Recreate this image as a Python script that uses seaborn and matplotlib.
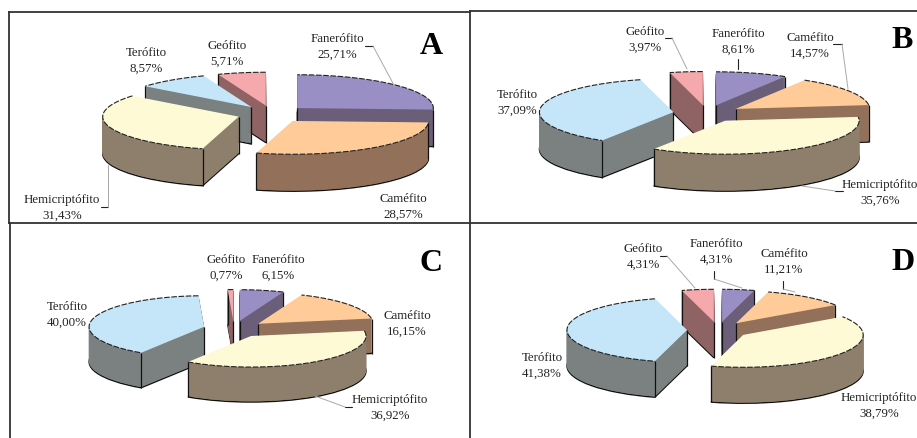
import numpy as np
import matplotlib
matplotlib.use('Agg')
import matplotlib.pyplot as plt
import seaborn as sns

W, H = 917, 439

### DATA ###
life_forms = ['Fanerófito', 'Caméfito', 'Hemicriptófito', 'Terófito', 'Geófito']
values_a = [25.71, 28.57, 31.43, 8.57, 5.71]
values_b = [8.61, 14.57, 35.76, 37.09, 3.97]
values_c = [6.15, 16.15, 36.92, 40.00, 0.77]
values_d = [4.31, 11.21, 38.79, 41.38, 4.31]
top_colors = ['#9A8FC4', '#FFCC99', '#FFFAD6', '#C5E6F9', '#F5A9AC']
wall_colors = ['#6B5E78', '#92705A', '#8E7E6C', '#7B8081', '#8F6264']

# panel layout, in pixels: letter, values, centre x/y, radius, explode, squash, depth
panels = [
    ('A', values_a, 272, 115.0, 136, 35, 0.245, 37, (431, 47)),
    ('B', values_b, 707, 114.5, 134, 34, 0.25, 37, (902, 41)),
    ('C', values_c, 234, 330.0, 115, 31, 0.27, 35, (431, 264)),
    ('D', values_d, 718, 331.0, 120, 31, 0.27, 36, (903, 263)),
]

# label centres, same order as life_forms
label_pos = {
    'A': [(337, 47), (403, 207), (62, 208), (146, 61), (227, 54)],
    'B': [(738, 42), (810, 46), (880, 193), (517, 103), (645, 40)],
    'C': [(278, 268), (407, 324), (390, 408), (67, 315), (226, 268)],
    'D': [(716, 252), (784, 262), (879, 406), (542, 366), (643, 257)],
}

leaders = [
    [(365, 47), (373, 47), (395, 88)],
    [(101, 208), (108, 208), (108, 166)],
    [(665, 39), (672, 39), (687, 70)],
    [(738, 60), (738, 70)],
    [(833, 45), (842, 45), (848, 90)],
    [(843, 192), (835, 192), (802, 187)],
    [(352, 408), (345, 408), (315, 397)],
    [(660, 257), (667, 257), (695, 289)],
    [(714, 272), (714, 280), (742, 289)],
    [(783, 282), (783, 290), (795, 293)],
]

borders = [
    [(9, 13), (470, 13)], [(470, 12), (917, 12)],
    [(9, 13), (9, 224)], [(10, 224), (10, 439)],
    [(470, 12), (470, 439)], [(9, 224), (917, 224)],
]

sns.set_theme(style='white')
plt.rcParams['font.family'] = ['Liberation Serif', 'DejaVu Serif']
top_pal = sns.color_palette(top_colors)
wall_pal = sns.color_palette(wall_colors)

fig = plt.figure(figsize=(W / 100, H / 100), dpi=100)


def inside_wedge(w, px, py):
    dx, dy = px - w.center[0], py - w.center[1]
    if np.hypot(dx, dy) > w.r:
        return False
    ang = np.degrees(np.arctan2(dy, dx))
    return (ang - w.theta1) % 360 <= (w.theta2 - w.theta1)


def draw_pie(values, cx, cy, radius, expl, squash, depth):
    # full-figure axes whose y unit is squashed, so each wedge turns into an ellipse
    ax = fig.add_axes([0, 0, 1, 1])
    y0 = (H - cy) / squash
    explode = [expl] * len(values)

    top, _ = ax.pie(values, radius=radius, center=(cx, y0), explode=explode,
                    startangle=90, counterclock=False, colors=top_pal,
                    normalize=True)
    # paint back wedges first
    order = sorted(range(len(top)), key=lambda i: -top[i].center[1])
    rank = {i: n for n, i in enumerate(order)}

    for k in range(1, depth + 1):
        layer, _ = ax.pie(values, radius=radius, center=(cx, y0 - k / squash),
                          explode=explode, startangle=90, counterclock=False,
                          colors=wall_pal, normalize=True)
        for i, w in enumerate(layer):
            w.set_zorder(rank[i] * 100 + depth - k + 2)
            if k == depth:
                w.set_edgecolor('#111111')
                w.set_linewidth(1.0)
            else:
                w.set_edgecolor(wall_pal[i])
                w.set_linewidth(0.4)

    for i, w in enumerate(top):
        z = rank[i] * 100
        w.set_zorder(z + 60)
        w.set_edgecolor('none')
        x, y = w.center
        # dashed outer rim only, the radial sides stay unlined
        a = np.radians(np.linspace(w.theta1, w.theta2, 80))
        ax.plot(x + w.r * np.cos(a), y + w.r * np.sin(a), color='#222222',
                lw=0.8, ls=(0, (5, 1.5)), zorder=z + 61)
        # vertical corner edges, skip any that would fall inside the wedge's own face
        for t in (w.theta1, w.theta2, None):
            if t is None:
                px, py = x, y
            else:
                px = x + w.r * np.cos(np.radians(t))
                py = y + w.r * np.sin(np.radians(t))
            if inside_wedge(w, px, py - 2 / squash):
                continue
            ax.plot([px, px], [py, py - depth / squash], color='#111111',
                    lw=0.9, zorder=z + 50, solid_capstyle='butt')

    ax.set_aspect('auto')
    ax.set_xlim(0, W)
    ax.set_ylim(0, H / squash)
    ax.axis('off')
    ax.patch.set_alpha(0)


for letter, values, cx, cy, radius, expl, squash, depth, _ in panels:
    draw_pie(values, cx, cy, radius, expl, squash, depth)

### TEXT AND FRAMES ###
over = fig.add_axes([0, 0, 1, 1], zorder=50)
over.set_xlim(0, W)
over.set_ylim(H, 0)
over.axis('off')
over.patch.set_alpha(0)

for seg in borders:
    xs, ys = zip(*seg)
    over.plot(xs, ys, color='#333333', lw=1.3, solid_capstyle='projecting')

for line in leaders:
    xs, ys = zip(*line)
    over.plot(xs[:2], ys[:2], color='#222222', lw=0.8)
    if len(xs) > 2:
        over.plot(xs[1:], ys[1:], color='#A8A8A8', lw=0.7)

for letter, values, *_, letter_pos in panels:
    over.text(*letter_pos, letter, fontsize=23, fontweight='bold', color='black',
              ha='center', va='center')
    for name, v, pos in zip(life_forms, values, label_pos[letter]):
        pct = f'{v:.2f}%'.replace('.', ',')
        over.text(*pos, f'{name}\n{pct}', fontsize=9.3, color='#222222',
                  ha='center', va='center', linespacing=1.35)

fig.savefig('out.png', dpi=100)
